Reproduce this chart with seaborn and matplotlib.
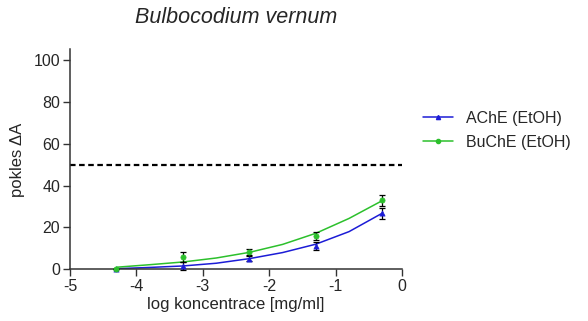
import numpy as np
import pandas as pd
import matplotlib
matplotlib.use("Agg")
import matplotlib.pyplot as plt
from matplotlib.lines import Line2D
import seaborn as sns

# %% data
log_conc = [-4.3, -3.3, -2.3, -1.3, -0.3]
ache_mean = [0.0, 1.7, 5.1, 11.2, 26.8]
ache_sem = [0.0, 2.0, 1.2, 1.8, 2.6]
buche_mean = [0.0, 6.0, 8.4, 16.1, 33.0]
buche_sem = [0.0, 2.3, 1.5, 1.9, 2.7]

# fitted curves
fit_x = [-4.3, -3.8, -3.3, -2.8, -2.3, -1.8, -1.3, -0.8, -0.3]
ache_fit = [0.3, 0.9, 1.6, 2.9, 5.1, 8.0, 12.0, 18.0, 26.8]
buche_fit = [1.0, 2.2, 3.5, 5.4, 8.1, 11.9, 17.2, 24.3, 32.8]

series = ["AChE (EtOH)", "BuChE (EtOH)"]
colors = {"AChE (EtOH)": "#1c1cd6", "BuChE (EtOH)": "#2cc02c"}
markers = {"AChE (EtOH)": "^", "BuChE (EtOH)": "o"}

df_fit = pd.DataFrame({
    "x": fit_x * 2,
    "y": ache_fit + buche_fit,
    "enzyme": [series[0]] * len(fit_x) + [series[1]] * len(fit_x),
})
df_pts = pd.DataFrame({
    "x": log_conc * 2,
    "y": ache_mean + buche_mean,
    "sem": ache_sem + buche_sem,
    "enzyme": [series[0]] * len(log_conc) + [series[1]] * len(log_conc),
})

# %% plot
sns.set_style("ticks")
plt.rcParams["font.family"] = ["Liberation Sans", "DejaVu Sans"]

fig = plt.figure(figsize=(5.88, 3.21), dpi=100)
ax = fig.add_axes([0.119, 0.161, 0.565, 0.685])

ax.axhline(50, color="black", linestyle=(0, (2.5, 1.6)), linewidth=1.6, zorder=1)

sns.lineplot(data=df_fit, x="x", y="y", hue="enzyme", palette=colors,
             linewidth=1.1, legend=False, ax=ax, zorder=2)

for name in series:
    d = df_pts[df_pts["enzyme"] == name]
    ax.errorbar(d["x"], d["y"], yerr=d["sem"], fmt="none", ecolor="black",
                elinewidth=0.9, capsize=2.5, capthick=0.9, zorder=3, clip_on=False)
    sns.scatterplot(data=d, x="x", y="y", color=colors[name], marker=markers[name],
                    s=14, edgecolor=colors[name], linewidth=0.5, ax=ax, zorder=4,
                    clip_on=False)

ax.set_xlim(-5, 0)
ax.set_ylim(0, 105)
ax.set_xticks([-5, -4, -3, -2, -1, 0])
ax.set_xticklabels(["-5", "-4", "-3", "-2", "-1", "0"])
ax.set_yticks([0, 20, 40, 60, 80, 100])
ax.tick_params(labelsize=11.5, length=5, width=1, color="#333333", pad=2)
for s in ["left", "bottom"]:
    ax.spines[s].set_color("#333333")
    ax.spines[s].set_linewidth(1.1)
sns.despine(ax=ax)

ax.set_xlabel("log koncentrace [mg/ml]", fontsize=12, labelpad=2)
ax.set_ylabel("pokles ΔA", fontsize=12, labelpad=6)
ax.set_title("Bulbocodium vernum", fontsize=15.5, style="italic", pad=19)

handles = [Line2D([0], [0], color=colors[n], marker=markers[n], markersize=3,
                  linewidth=1.1) for n in series]
ax.legend(handles, series, loc="center left", bbox_to_anchor=(1.063, 0.633),
          frameon=False, fontsize=11.5, handlelength=1.9, handletextpad=0.8,
          labelspacing=0.55, borderpad=0, borderaxespad=0)

fig.savefig("out.png", dpi=100)
